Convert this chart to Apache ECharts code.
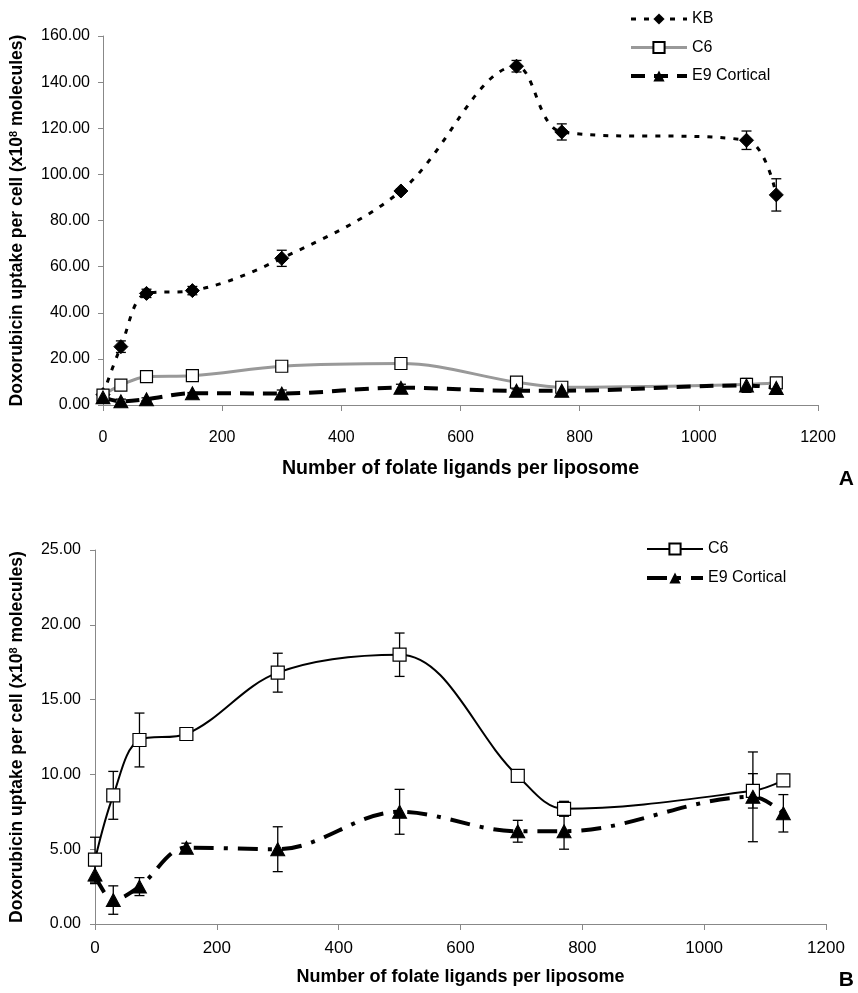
<!DOCTYPE html>
<html>
<head>
<meta charset="utf-8">
<script src="https://cdn.jsdelivr.net/npm/echarts@6/dist/echarts.min.js"></script>
<style>
html, body { margin: 0; padding: 0; background: #fff; }
#chart { width: 858px; height: 993px; }
</style>
</head>
<body>
<div id="chart"></div>
<script>
// folate ligands per liposome
const ligands = [0, 30, 73, 150, 300, 500, 694, 770, 1080, 1130];
// doxorubicin uptake (x10^8 molecules) and error
const kb = [4.5, 25.3, 48.4, 49.6, 63.6, 92.8, 146.9, 118.4, 114.8, 91.1];
const kbErr = [1.5, 2.5, 1.8, 1.8, 3.5, 1.0, 2.5, 3.5, 4.0, 7.0];
const c6 = [4.3, 8.6, 12.3, 12.7, 16.8, 18.0, 9.9, 7.7, 8.9, 9.6];
const c6Err = [1.5, 1.6, 1.8, 0.3, 1.3, 1.45, 0.3, 0.5, 1.15, 0.3];
const e9 = [3.3, 1.6, 2.5, 5.1, 5.0, 7.5, 6.2, 6.2, 8.5, 7.4];
const e9Err = [0.6, 0.95, 0.6, 0.3, 1.5, 1.5, 0.73, 1.2, 3.0, 1.25];

const font = 'Liberation Sans, Arial, sans-serif';
const chart = echarts.init(document.getElementById('chart'));

function pairs(vals) {
    return ligands.map((x, i) => [x, vals[i]]);
}

// error bars drawn through the axes
function errBars(xi, vals, errs) {
    return {
        type: 'custom',
        xAxisIndex: xi,
        yAxisIndex: xi,
        z: 1,
        silent: true,
        encode: { x: 0, y: [1, 2] },
        data: ligands.map((x, i) => [x, vals[i] - errs[i], vals[i] + errs[i]]),
        renderItem: function (params, api) {
            const lo = api.coord([api.value(0), api.value(1)]);
            const hi = api.coord([api.value(0), api.value(2)]);
            const w = 5;
            const st = { stroke: '#000', lineWidth: 1.3 };
            return {
                type: 'group',
                children: [
                    { type: 'line', shape: { x1: lo[0], y1: lo[1], x2: hi[0], y2: hi[1] }, style: st },
                    { type: 'line', shape: { x1: lo[0] - w, y1: lo[1], x2: lo[0] + w, y2: lo[1] }, style: st },
                    { type: 'line', shape: { x1: hi[0] - w, y1: hi[1], x2: hi[0] + w, y2: hi[1] }, style: st }
                ]
            };
        }
    };
}

function xAx(gi, labelSize, margin, nameSize, nameGap) {
    return {
        type: 'value',
        gridIndex: gi,
        min: 0, max: 1200, interval: 200,
        name: 'Number of folate ligands per liposome',
        nameLocation: 'middle',
        nameGap: nameGap,
        nameTextStyle: { fontFamily: font, fontSize: nameSize, fontWeight: 'bold', color: '#000' },
        axisLine: { show: true, onZero: false, lineStyle: { color: '#888', width: 1 } },
        axisTick: { show: true, length: 6, lineStyle: { color: '#888' } },
        axisLabel: { fontFamily: font, fontSize: labelSize, color: '#000', margin: margin, formatter: v => String(v) },
        splitLine: { show: false }
    };
}

function yAx(gi, max, interval, margin, nameGap) {
    return {
        type: 'value',
        gridIndex: gi,
        min: 0, max: max, interval: interval,
        name: '{a|Doxorubicin uptake per cell (x10}{s|8}{a| molecules)}',
        nameLocation: 'middle',
        nameGap: nameGap,
        nameTextStyle: {
            rich: {
                a: { fontFamily: font, fontSize: 17.5, fontWeight: 'bold', color: '#000' },
                s: { fontFamily: font, fontSize: 11, fontWeight: 'bold', color: '#000', verticalAlign: 'top' }
            }
        },
        axisLine: { show: true, lineStyle: { color: '#888', width: 1 } },
        axisTick: { show: true, length: 5, lineStyle: { color: '#888' } },
        axisLabel: {
            fontFamily: font, fontSize: 16, color: '#000', margin: margin,
            formatter: v => v.toFixed(2)
        },
        splitLine: { show: false }
    };
}

const option = {
    backgroundColor: '#fff',
    animation: false,
    grid: [
        { left: 103, right: 40, top: 36, bottom: 588 },
        { left: 95, right: 32, top: 550, bottom: 69 }
    ],
    xAxis: [xAx(0, 16, 25, 19.6, 54), xAx(1, 17, 16, 18, 44)],
    yAxis: [yAx(0, 160, 20, 13, 77), yAx(1, 25, 5, 14, 69)],
    legend: [
        {
            data: ['KB', 'C6', 'E9 Cortical'],
            orient: 'vertical',
            left: 629, top: 11, padding: 0,
            itemWidth: 56, itemHeight: 14, itemGap: 12.5,
            lineStyle: { width: 'inherit' },
            textStyle: { fontFamily: font, fontSize: 16, color: '#000' }
        },
        {
            data: ['C6 ', 'E9 Cortical '],
            orient: 'vertical',
            left: 645, top: 541, padding: 0,
            itemWidth: 56, itemHeight: 14, itemGap: 13,
            lineStyle: { width: 'inherit' },
            formatter: n => n.trim(),
            textStyle: { fontFamily: font, fontSize: 16, color: '#000' }
        }
    ],
    graphic: [
        { type: 'text', right: 4, top: 469, style: { text: 'A', fontFamily: font, fontSize: 21, fontWeight: 'bold', fill: '#000' } },
        { type: 'text', right: 4, top: 970, style: { text: 'B', fontFamily: font, fontSize: 21, fontWeight: 'bold', fill: '#000' } }
    ],
    series: [
        errBars(0, kb, kbErr),
        errBars(0, c6, c6Err),
        errBars(0, e9, e9Err),
        {
            name: 'KB', type: 'line', xAxisIndex: 0, yAxisIndex: 0,
            data: pairs(kb), smooth: 0.35,
            symbol: 'diamond', symbolSize: 14,
            lineStyle: { color: '#000', width: 3, type: [5, 8] },
            itemStyle: { color: '#000', borderColor: '#000' }
        },
        {
            name: 'C6', type: 'line', xAxisIndex: 0, yAxisIndex: 0,
            data: pairs(c6), smooth: 0.35,
            symbol: 'rect', symbolSize: 12,
            lineStyle: { color: '#999', width: 3 },
            itemStyle: { color: '#fff', borderColor: '#000', borderWidth: 1.2 }
        },
        {
            name: 'E9 Cortical', type: 'line', xAxisIndex: 0, yAxisIndex: 0,
            data: pairs(e9), smooth: 0.35,
            symbol: 'triangle', symbolSize: [14, 13],
            lineStyle: { color: '#000', width: 4, type: [14, 9] },
            itemStyle: { color: '#000', borderColor: '#000' }
        },
        errBars(1, c6, c6Err),
        errBars(1, e9, e9Err),
        {
            name: 'C6 ', type: 'line', xAxisIndex: 1, yAxisIndex: 1,
            data: pairs(c6), smooth: 0.35,
            symbol: 'rect', symbolSize: 13,
            lineStyle: { color: '#000', width: 2 },
            itemStyle: { color: '#fff', borderColor: '#000', borderWidth: 1.2 }
        },
        {
            name: 'E9 Cortical ', type: 'line', xAxisIndex: 1, yAxisIndex: 1,
            data: pairs(e9), smooth: 0.35,
            symbol: 'triangle', symbolSize: [14, 13],
            lineStyle: { color: '#000', width: 4, type: [20, 10, 4, 10] },
            itemStyle: { color: '#000', borderColor: '#000' }
        }
    ]
};

chart.setOption(option);
</script>
</body>
</html>
